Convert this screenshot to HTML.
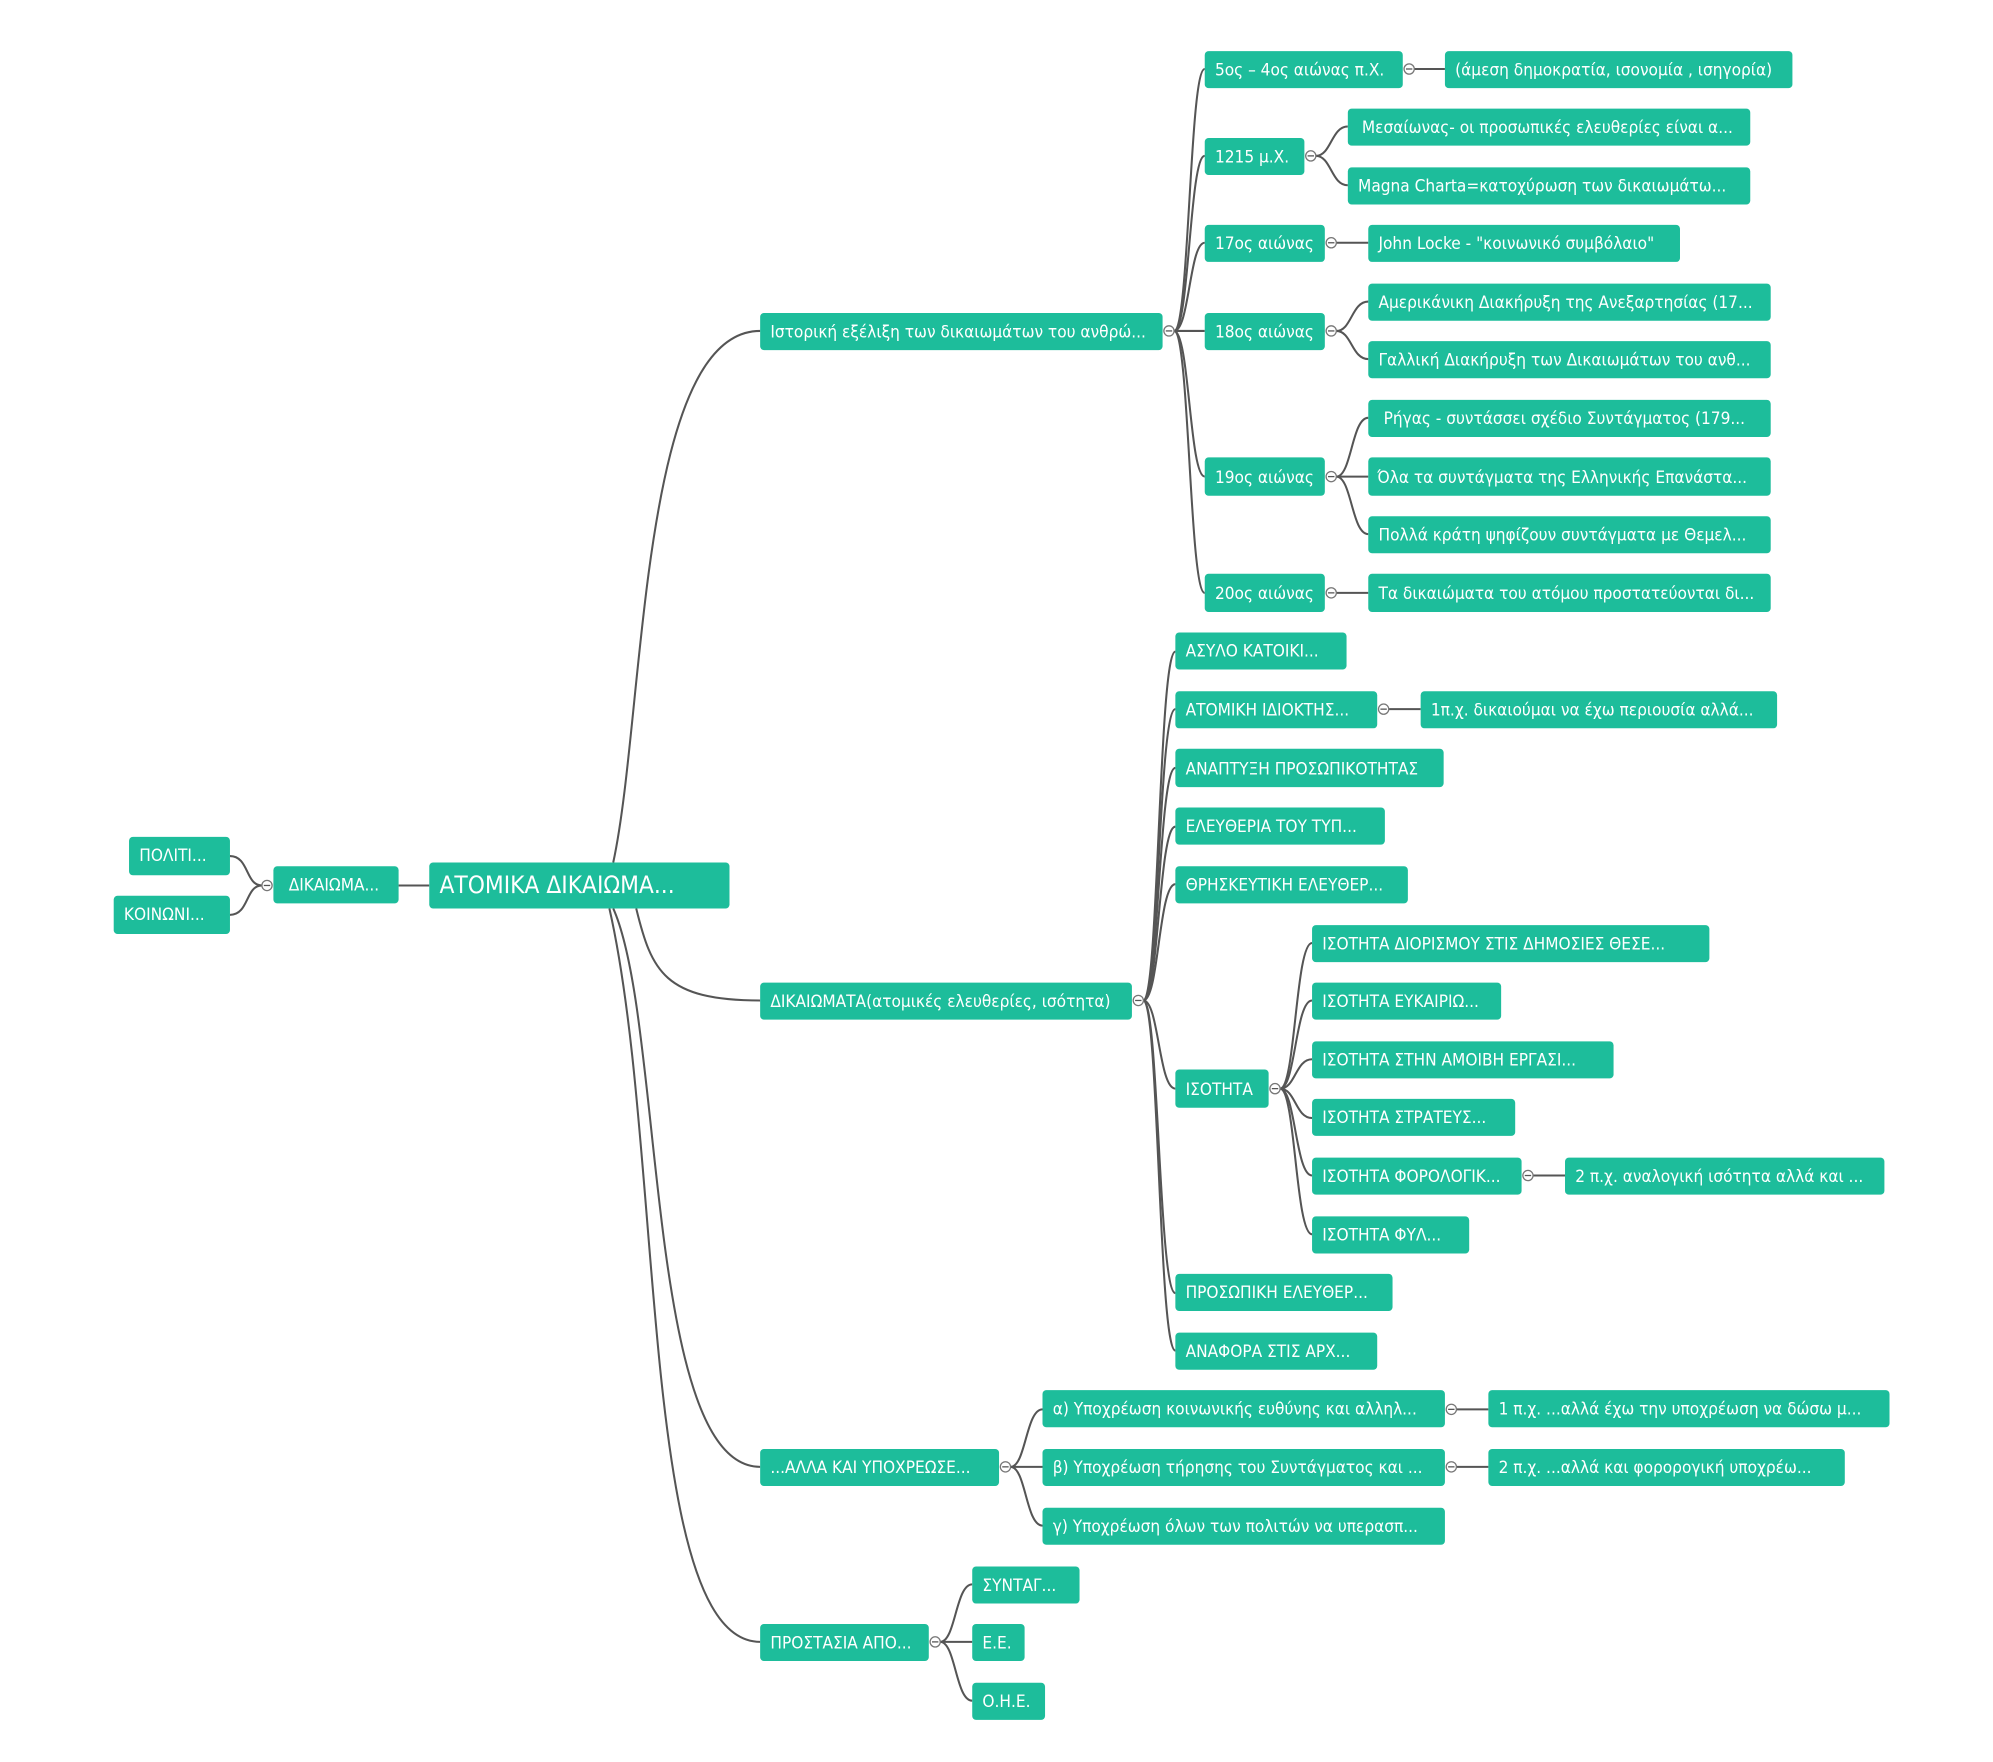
<!DOCTYPE html>
<html><head><meta charset="utf-8"><style>
html,body{margin:0;padding:0;background:#fff;width:1993px;height:1762px;overflow:hidden}
svg{display:block}
text{font-family:"DejaVu Sans Condensed","Liberation Sans",sans-serif;font-size:13.4px;fill:#fff}
.n{fill:#1dbd9b}
.c{fill:none;stroke:#555;stroke-width:1.6}
.o{fill:#fff;stroke:#777;stroke-width:1}
</style></head><body>
<svg width="1993" height="1762" viewBox="0 0 1560 1379" preserveAspectRatio="none">
<g class="c">
<path d="M312 693 H336"/>
<path d="M205 693 C192 693 195 670 180 670"/><path d="M205 693 C192 693 195 716 180 716"/>
<path d="M480 675 C505 560 500 259 595 259"/>
<path d="M498 711 C510 760 520 783 595 783"/>
<path d="M480 711 C520 800 505 1148 595 1148"/>
<path d="M477 711 C520 900 500 1285 595 1285"/>
<path d="M919 259 C931 259 931 54 943 54"/><path d="M919 259 C931 259 931 122 943 122"/><path d="M919 259 C931 259 931 190 943 190"/><path d="M919 259 H943"/><path d="M919 259 C931 259 931 373 943 373"/><path d="M919 259 C931 259 931 464 943 464"/>
<path d="M1107 54 H1131"/>
<path d="M1030 122 C1042 122 1042 99 1055 99"/><path d="M1030 122 C1042 122 1042 145 1055 145"/>
<path d="M1046 190 H1071"/>
<path d="M1046 259 C1058 259 1058 236 1071 236"/><path d="M1046 259 C1058 259 1058 281 1071 281"/>
<path d="M1046 373 C1058 373 1058 327 1071 327"/><path d="M1046 373 H1071"/><path d="M1046 373 C1058 373 1058 418 1071 418"/>
<path d="M1046 464 H1071"/>
<path d="M895 783 C907 783 907 510 920 510"/><path d="M895 783 C907 783 907 555 920 555"/><path d="M895 783 C907 783 907 601 920 601"/><path d="M895 783 C907 783 907 647 920 647"/><path d="M895 783 C907 783 907 692 920 692"/><path d="M895 783 C907 783 907 852 920 852"/><path d="M895 783 C907 783 907 1012 920 1012"/><path d="M895 783 C907 783 907 1057 920 1057"/>
<path d="M1087 555 H1112"/>
<path d="M1002 852 C1014 852 1014 738 1027 738"/><path d="M1002 852 C1014 852 1014 783 1027 783"/><path d="M1002 852 C1014 852 1014 829 1027 829"/><path d="M1002 852 C1014 852 1014 875 1027 875"/><path d="M1002 852 C1014 852 1014 920 1027 920"/><path d="M1002 852 C1014 852 1014 966 1027 966"/>
<path d="M1200 920 H1225"/>
<path d="M791 1148 C803 1148 803 1103 816 1103"/><path d="M791 1148 H816"/><path d="M791 1148 C803 1148 803 1194 816 1194"/>
<path d="M1140 1103 H1165"/><path d="M1140 1148 H1165"/>
<path d="M736 1285 C748 1285 748 1240 761 1240"/><path d="M736 1285 H761"/><path d="M736 1285 C748 1285 748 1331 761 1331"/>
</g>
<g>
<rect class="n" x="336" y="675" width="235" height="36" rx="3"/><text x="344" y="699" style="font-size:19px">ΑΤΟΜΙΚΑ ΔΙΚΑΙΩΜΑ...</text>
<rect class="n" x="214" y="678" width="98" height="29" rx="3"/><text x="226" y="697">ΔΙΚΑΙΩΜΑ...</text>
<rect class="n" x="101" y="655" width="79" height="30" rx="3"/><text x="109" y="674">ΠΟΛΙΤΙ...</text>
<rect class="n" x="89" y="701" width="91" height="30" rx="3"/><text x="97" y="720">ΚΟΙΝΩΝΙ...</text>

<rect class="n" x="595" y="245" width="315" height="29" rx="3"/><text x="603" y="264">Ιστορική εξέλιξη των δικαιωμάτων του ανθρώ...</text>
<rect class="n" x="595" y="769" width="291" height="29" rx="3"/><text x="603" y="788">ΔΙΚΑΙΩΜΑΤΑ(ατομικές ελευθερίες, ισότητα)</text>
<rect class="n" x="595" y="1134" width="187" height="29" rx="3"/><text x="603" y="1153">...ΑΛΛΑ ΚΑΙ ΥΠΟΧΡΕΩΣΕ...</text>
<rect class="n" x="595" y="1271" width="132" height="29" rx="3"/><text x="603" y="1290">ΠΡΟΣΤΑΣΙΑ ΑΠΟ...</text>

<rect class="n" x="943" y="40" width="155" height="29" rx="3"/><text x="951" y="59">5ος – 4ος αιώνας π.Χ.</text>
<rect class="n" x="1131" y="40" width="272" height="29" rx="3"/><text x="1139" y="59">(άμεση δημοκρατία, ισονομία , ισηγορία)</text>
<rect class="n" x="943" y="108" width="78" height="29" rx="3"/><text x="951" y="127">1215 μ.Χ.</text>
<rect class="n" x="1055" y="85" width="315" height="29" rx="3"/><text x="1066" y="104">Μεσαίωνας- οι προσωπικές ελευθερίες είναι α...</text>
<rect class="n" x="1055" y="131" width="315" height="29" rx="3"/><text x="1063" y="150">Magna Charta=κατοχύρωση  των δικαιωμάτω...</text>
<rect class="n" x="943" y="176" width="94" height="29" rx="3"/><text x="951" y="195">17ος αιώνας</text>
<rect class="n" x="1071" y="176" width="244" height="29" rx="3"/><text x="1079" y="195">John Locke - "κοινωνικό συμβόλαιο"</text>
<rect class="n" x="943" y="245" width="94" height="29" rx="3"/><text x="951" y="264">18ος αιώνας</text>
<rect class="n" x="1071" y="222" width="315" height="29" rx="3"/><text x="1079" y="241">Αμερικάνικη Διακήρυξη της Ανεξαρτησίας (17...</text>
<rect class="n" x="1071" y="267" width="315" height="29" rx="3"/><text x="1079" y="286">Γαλλική Διακήρυξη των Δικαιωμάτων του ανθ...</text>
<rect class="n" x="943" y="358" width="94" height="30" rx="3"/><text x="951" y="378">19ος αιώνας</text>
<rect class="n" x="1071" y="313" width="315" height="29" rx="3"/><text x="1083" y="332">Ρήγας - συντάσσει σχέδιο Συντάγματος (179...</text>
<rect class="n" x="1071" y="358" width="315" height="30" rx="3"/><text x="1078" y="378">Όλα τα συντάγματα της Ελληνικής Επανάστα...</text>
<rect class="n" x="1071" y="404" width="315" height="29" rx="3"/><text x="1079" y="423">Πολλά κράτη ψηφίζουν συντάγματα με Θεμελ...</text>
<rect class="n" x="943" y="449" width="94" height="30" rx="3"/><text x="951" y="469">20ος αιώνας</text>
<rect class="n" x="1071" y="449" width="315" height="30" rx="3"/><text x="1079" y="469">Τα δικαιώματα του ατόμου προστατεύονται δι...</text>

<rect class="n" x="920" y="495" width="134" height="29" rx="3"/><text x="928" y="514">ΑΣΥΛΟ ΚΑΤΟΙΚΙ...</text>
<rect class="n" x="920" y="541" width="158" height="29" rx="3"/><text x="928" y="560">ΑΤΟΜΙΚΗ ΙΔΙΟΚΤΗΣ...</text>
<rect class="n" x="1112" y="541" width="279" height="29" rx="3"/><text x="1120" y="560">1π.χ. δικαιούμαι να έχω περιουσία αλλά...</text>
<rect class="n" x="920" y="586" width="210" height="30" rx="3"/><text x="928" y="606">ΑΝΑΠΤΥΞΗ ΠΡΟΣΩΠΙΚΟΤΗΤΑΣ</text>
<rect class="n" x="920" y="632" width="164" height="29" rx="3"/><text x="928" y="651">ΕΛΕΥΘΕΡΙΑ ΤΟΥ ΤΥΠ...</text>
<rect class="n" x="920" y="678" width="182" height="29" rx="3"/><text x="928" y="697">ΘΡΗΣΚΕΥΤΙΚΗ ΕΛΕΥΘΕΡ...</text>
<rect class="n" x="920" y="837" width="73" height="30" rx="3"/><text x="928" y="857">ΙΣΟΤΗΤΑ</text>
<rect class="n" x="1027" y="724" width="311" height="29" rx="3"/><text x="1035" y="743">ΙΣΟΤΗΤΑ ΔΙΟΡΙΣΜΟΥ ΣΤΙΣ ΔΗΜΟΣΙΕΣ ΘΕΣΕ...</text>
<rect class="n" x="1027" y="769" width="148" height="29" rx="3"/><text x="1035" y="788">ΙΣΟΤΗΤΑ ΕΥΚΑΙΡΙΩ...</text>
<rect class="n" x="1027" y="815" width="236" height="29" rx="3"/><text x="1035" y="834">ΙΣΟΤΗΤΑ ΣΤΗΝ ΑΜΟΙΒΗ ΕΡΓΑΣΙ...</text>
<rect class="n" x="1027" y="860" width="159" height="29" rx="3"/><text x="1035" y="879">ΙΣΟΤΗΤΑ ΣΤΡΑΤΕΥΣ...</text>
<rect class="n" x="1027" y="906" width="164" height="29" rx="3"/><text x="1035" y="925">ΙΣΟΤΗΤΑ ΦΟΡΟΛΟΓΙΚ...</text>
<rect class="n" x="1225" y="906" width="250" height="29" rx="3"/><text x="1233" y="925">2 π.χ. αναλογική ισότητα αλλά και ...</text>
<rect class="n" x="1027" y="952" width="123" height="29" rx="3"/><text x="1035" y="971">ΙΣΟΤΗΤΑ ΦΥΛ...</text>
<rect class="n" x="920" y="997" width="170" height="29" rx="3"/><text x="928" y="1016">ΠΡΟΣΩΠΙΚΗ ΕΛΕΥΘΕΡ...</text>
<rect class="n" x="920" y="1043" width="158" height="29" rx="3"/><text x="928" y="1062">ΑΝΑΦΟΡΑ ΣΤΙΣ ΑΡΧ...</text>

<rect class="n" x="816" y="1088" width="315" height="29" rx="3"/><text x="824" y="1107">α) Υποχρέωση κοινωνικής ευθύνης και αλληλ...</text>
<rect class="n" x="1165" y="1088" width="314" height="29" rx="3"/><text x="1173" y="1107">1 π.χ. ...αλλά έχω την υποχρέωση να δώσω μ...</text>
<rect class="n" x="816" y="1134" width="315" height="29" rx="3"/><text x="824" y="1153">β) Υποχρέωση τήρησης του Συντάγματος και ...</text>
<rect class="n" x="1165" y="1134" width="279" height="29" rx="3"/><text x="1173" y="1153">2 π.χ. ...αλλά και φορορογική υποχρέω...</text>
<rect class="n" x="816" y="1180" width="315" height="29" rx="3"/><text x="824" y="1199">γ) Υποχρέωση όλων των πολιτών να υπερασπ...</text>

<rect class="n" x="761" y="1226" width="84" height="29" rx="3"/><text x="769" y="1245">ΣΥΝΤΑΓ...</text>
<rect class="n" x="761" y="1271" width="41" height="29" rx="3"/><text x="769" y="1290">Ε.Ε.</text>
<rect class="n" x="761" y="1317" width="57" height="29" rx="3"/><text x="769" y="1336">Ο.Η.Ε.</text>
</g>
<g>
<g transform="translate(209,693)"><circle class="o" r="4"/><path d="M-2.5 0H2.5" stroke="#555"/></g>
<g transform="translate(915,259)"><circle class="o" r="4"/><path d="M-2.5 0H2.5" stroke="#555"/></g>
<g transform="translate(1103,54)"><circle class="o" r="4"/><path d="M-2.5 0H2.5" stroke="#555"/></g>
<g transform="translate(1026,122)"><circle class="o" r="4"/><path d="M-2.5 0H2.5" stroke="#555"/></g>
<g transform="translate(1042,190)"><circle class="o" r="4"/><path d="M-2.5 0H2.5" stroke="#555"/></g>
<g transform="translate(1042,259)"><circle class="o" r="4"/><path d="M-2.5 0H2.5" stroke="#555"/></g>
<g transform="translate(1042,373)"><circle class="o" r="4"/><path d="M-2.5 0H2.5" stroke="#555"/></g>
<g transform="translate(1042,464)"><circle class="o" r="4"/><path d="M-2.5 0H2.5" stroke="#555"/></g>
<g transform="translate(891,783)"><circle class="o" r="4"/><path d="M-2.5 0H2.5" stroke="#555"/></g>
<g transform="translate(1083,555)"><circle class="o" r="4"/><path d="M-2.5 0H2.5" stroke="#555"/></g>
<g transform="translate(998,852)"><circle class="o" r="4"/><path d="M-2.5 0H2.5" stroke="#555"/></g>
<g transform="translate(1196,920)"><circle class="o" r="4"/><path d="M-2.5 0H2.5" stroke="#555"/></g>
<g transform="translate(787,1148)"><circle class="o" r="4"/><path d="M-2.5 0H2.5" stroke="#555"/></g>
<g transform="translate(1136,1103)"><circle class="o" r="4"/><path d="M-2.5 0H2.5" stroke="#555"/></g>
<g transform="translate(1136,1148)"><circle class="o" r="4"/><path d="M-2.5 0H2.5" stroke="#555"/></g>
<g transform="translate(732,1285)"><circle class="o" r="4"/><path d="M-2.5 0H2.5" stroke="#555"/></g>
</g>
</svg>
</body></html>
